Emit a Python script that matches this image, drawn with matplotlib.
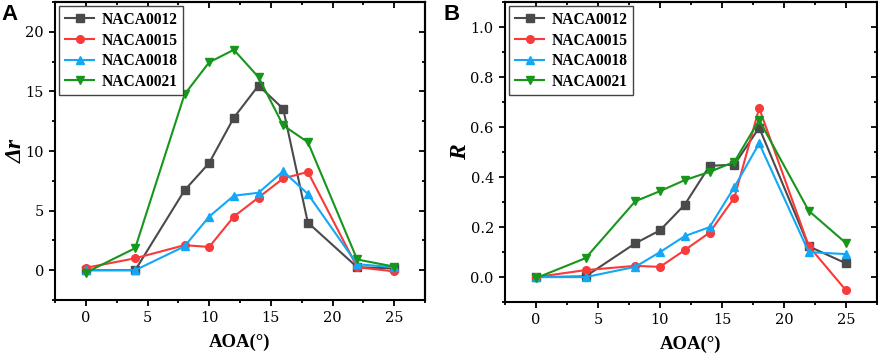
import matplotlib
matplotlib.use("Agg")
import matplotlib.pyplot as plt
from matplotlib.ticker import MultipleLocator, FormatStrFormatter, NullFormatter

aoa = [0, 4, 8, 10, 12, 14, 16, 18, 22, 25]
series_names = ["NACA0012", "NACA0015", "NACA0018", "NACA0021"]

dr_0012 = [0.0, 0.0, 6.7, 9.0, 12.8, 15.5, 13.55, 4.0, 0.25, 0.15]
dr_0015 = [0.2, 1.0, 2.1, 1.95, 4.5, 6.1, 7.7, 8.25, 0.25, -0.1]
dr_0018 = [0.0, 0.0, 2.0, 4.5, 6.25, 6.5, 8.3, 6.4, 0.5, 0.25]
dr_0021 = [-0.2, 1.85, 14.75, 17.45, 18.5, 16.2, 12.15, 10.75, 0.9, 0.3]

r_0012 = [0.0, 0.003, 0.135, 0.187, 0.29, 0.445, 0.45, 0.598, 0.123, 0.055]
r_0015 = [0.0, 0.028, 0.045, 0.041, 0.108, 0.178, 0.318, 0.676, 0.124, -0.053]
r_0018 = [0.0, 0.0, 0.041, 0.1, 0.164, 0.2, 0.36, 0.535, 0.1, 0.092]
r_0021 = [-0.004, 0.076, 0.303, 0.344, 0.388, 0.421, 0.461, 0.628, 0.265, 0.136]

colors = ["#4a4a4a", "#f83a3a", "#13a7f5", "#16971c"]
markers = ["s", "o", "^", "v"]

serif = ["Liberation Serif", "DejaVu Serif"]
tickfont = ["DejaVu Serif"]

fig = plt.figure(figsize=(8.79, 3.55), dpi=100)
axA = fig.add_axes([0.0626, 0.155, 0.4209, 0.839])
axB = fig.add_axes([0.5745, 0.149, 0.4232, 0.845])


def style(ax, ylab, ymaj, ymin, fmt, ylab_x):
    ax.xaxis.set_major_locator(MultipleLocator(5))
    ax.xaxis.set_minor_locator(MultipleLocator(2.5))
    ax.yaxis.set_major_locator(MultipleLocator(ymaj))
    ax.yaxis.set_minor_locator(MultipleLocator(ymin))
    ax.yaxis.set_major_formatter(FormatStrFormatter(fmt))
    ax.tick_params(which="both", direction="out", width=1.3, pad=4)
    ax.tick_params(which="major", length=4)
    ax.tick_params(which="minor", length=2)
    for sp in ax.spines.values():
        sp.set_linewidth(1.5)
    # mirrored inward ticks on top and right
    top = ax.secondary_xaxis("top")
    top.xaxis.set_major_locator(MultipleLocator(5))
    top.xaxis.set_minor_locator(MultipleLocator(2.5))
    top.xaxis.set_major_formatter(NullFormatter())
    top.tick_params(which="both", direction="in", width=1.3)
    top.tick_params(which="major", length=4)
    top.tick_params(which="minor", length=2)
    top.spines["top"].set_linewidth(1.5)
    right = ax.secondary_yaxis("right")
    right.yaxis.set_major_locator(MultipleLocator(ymaj))
    right.yaxis.set_minor_locator(MultipleLocator(ymin))
    right.yaxis.set_major_formatter(NullFormatter())
    right.tick_params(which="both", direction="in", width=1.3)
    right.tick_params(which="major", length=4)
    right.tick_params(which="minor", length=2)
    right.spines["right"].set_linewidth(1.5)
    for lab in ax.get_xticklabels() + ax.get_yticklabels():
        lab.set_family(tickfont)
        lab.set_fontsize(10.5)
    ax.set_xlabel("AOA(°)", family=serif, fontweight="bold", fontsize=13.5, labelpad=6)
    ax.set_ylabel(ylab, family=serif, fontweight="bold", fontstyle="italic", fontsize=17)
    ax.yaxis.set_label_coords(ylab_x, 0.5)
    leg = ax.legend(loc="upper left", prop={"family": serif, "weight": "bold", "size": 11.2},
                    fancybox=False, edgecolor="#444444", framealpha=1, labelspacing=0.3,
                    handlelength=1.9, borderpad=0.35, borderaxespad=0.28, handletextpad=0.45)
    leg.get_frame().set_linewidth(1.0)


for vals, c, m, n in zip([dr_0012, dr_0015, dr_0018, dr_0021], colors, markers, series_names):
    axA.plot(aoa, vals, color=c, marker=m, markersize=5.5, linewidth=1.5, label=n)
axA.set_xlim(-2.5, 27.5)
axA.set_ylim(-2.5, 22.5)
style(axA, "Δr", 5, 2.5, "%d", -0.076)

for vals, c, m, n in zip([r_0012, r_0015, r_0018, r_0021], colors, markers, series_names):
    axB.plot(aoa, vals, color=c, marker=m, markersize=5.5, linewidth=1.5, label=n)
axB.set_xlim(-2.5, 27.5)
axB.set_ylim(-0.1, 1.1)
style(axB, "R", 0.2, 0.1, "%.1f", -0.09)

fig.text(0.002, 0.99, "A", family=["Liberation Sans", "DejaVu Sans"], fontweight="bold",
         fontsize=16, va="top", ha="left")
fig.text(0.505, 0.99, "B", family=["Liberation Sans", "DejaVu Sans"], fontweight="bold",
         fontsize=16, va="top", ha="left")

fig.savefig("out.png", dpi=100)
